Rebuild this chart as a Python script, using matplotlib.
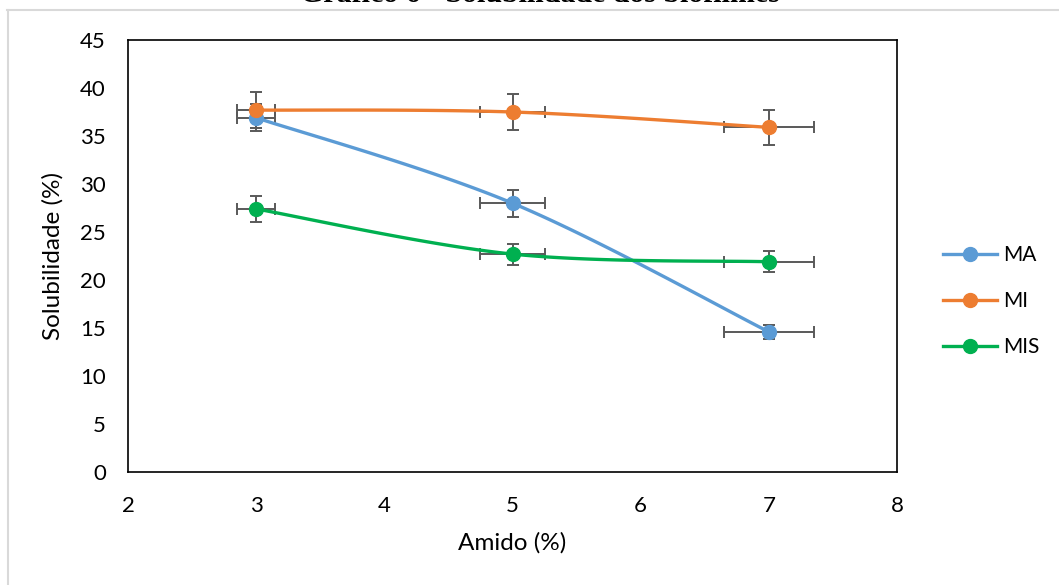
import numpy as np
import matplotlib
matplotlib.use("Agg")
import matplotlib.pyplot as plt
from matplotlib.lines import Line2D

plt.rcParams['font.family'] = ['Lato', 'DejaVu Sans']

amido = [3, 5, 7]
series_names = ["MA", "MI", "MIS"]
ma = [36.9, 28.0, 14.6]
mi = [37.7, 37.5, 35.9]
mis = [27.4, 22.7, 21.9]
ma_yerr = [1.4, 1.4, 0.7]
mi_yerr = [1.9, 1.9, 1.8]
mis_yerr = [1.4, 1.1, 1.1]
xerr = [0.15, 0.25, 0.35]
colors = ["#5B9BD5", "#ED7D31", "#00B050"]
xticks = [2, 3, 4, 5, 6, 7, 8]
yticks = [0, 5, 10, 15, 20, 25, 30, 35, 40, 45]
title = "Gráfico 6 - Solubilidade dos biofilmes"


def smooth(xs, ys, n=60):
    P = np.column_stack([xs, ys]).astype(float)
    pts = np.vstack([P[0], P, P[-1]])
    out = []
    for i in range(1, len(pts) - 2):
        p0, p1, p2, p3 = pts[i - 1], pts[i], pts[i + 1], pts[i + 2]
        b1 = p1 + (p2 - p0) / 6.0
        b2 = p2 - (p3 - p1) / 6.0
        t = np.linspace(0, 1, n)[:, None]
        seg = ((1 - t) ** 3) * p1 + 3 * ((1 - t) ** 2) * t * b1 + 3 * (1 - t) * t ** 2 * b2 + t ** 3 * p2
        out.append(seg if i == 1 else seg[1:])
    s = np.vstack(out)
    return s[:, 0], s[:, 1]


W, H = 1059, 585
fig = plt.figure(figsize=(W / 100, H / 100), dpi=100)
ax = fig.add_axes([128 / W, 1 - 472 / H, (897 - 128) / W, (472 - 40) / H])

for ys, yerr, c, name in zip([ma, mi, mis], [ma_yerr, mi_yerr, mis_yerr], colors, series_names):
    ax.errorbar(amido, ys, xerr=xerr, yerr=yerr, fmt='none', ecolor='#595959',
                elinewidth=1.4, capsize=4, capthick=1.4, zorder=2)
    sx, sy = smooth(amido, ys)
    ax.plot(sx, sy, color=c, lw=2.4, zorder=3, solid_capstyle='round')
    ax.plot(amido, ys, 'o', color=c, ms=10, zorder=4)

ax.set_xlim(2, 8)
ax.set_ylim(0, 45)
ax.set_xticks(xticks)
ax.set_yticks(yticks)
ax.tick_params(length=0, labelsize=16, colors='black')
ax.tick_params(axis='y', pad=16)
ax.tick_params(axis='x', pad=17)
for s in ax.spines.values():
    s.set_color('black')
    s.set_linewidth(1.2)

ax.set_xlabel("Amido (%)", fontsize=17.5, labelpad=12)
ax.set_ylabel("Solubilidade (%)", fontsize=17.5, labelpad=12)

handles = [Line2D([], [], color=c, lw=2.4, marker='o', ms=10) for c in colors]
fig.legend(handles, series_names, loc='center left', bbox_to_anchor=(924 / W, 1 - 301 / H),
           frameon=False, fontsize=15, handlelength=2.6, handletextpad=0.3, labelspacing=1.25)

fig.text(540 / W, 1 - 1.5 / H, title, ha='center', va='baseline', fontsize=21.5,
         fontweight='bold', family='Liberation Serif')

fig.add_artist(Line2D([7 / W, 1], [1 - 9.5 / H, 1 - 9.5 / H], color='#D9D9D9', lw=1.5))
fig.add_artist(Line2D([7.5 / W, 7.5 / W], [0, 1 - 9.5 / H], color='#D9D9D9', lw=1.5))

fig.savefig("out.png", dpi=100, facecolor='white')
